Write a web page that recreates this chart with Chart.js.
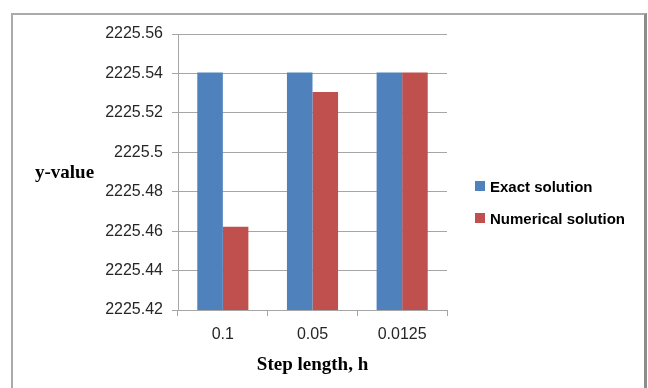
<!DOCTYPE html>
<html>
<head>
<meta charset="utf-8">
<script src="https://cdn.jsdelivr.net/npm/chart.js@4/dist/chart.umd.min.js"></script>
<style>
  html, body { margin: 0; padding: 0; background: #fff; }
  #wrap { position: relative; width: 648px; height: 388px; overflow: hidden; }
  #frame { position: absolute; left: 11px; top: 13px; width: 631px; height: 400px;
           border: 2px solid #aaaaaa; border-right: 3px solid #8c8c8c; pointer-events: none; }
  #legend { position: absolute; left: 475px; top: 177px; margin: 0; padding: 0; list-style: none;
            font: bold 15px "Liberation Sans", sans-serif; color: #000; }
  #legend li { display: flex; align-items: center; height: 18px; margin-bottom: 14px; white-space: nowrap; }
  #legend span.box { display: inline-block; width: 10px; height: 10px; margin-right: 5px; }
</style>
</head>
<body>
<div id="wrap">
  <canvas id="stepChart" width="648" height="388"></canvas>
  <ul id="legend"></ul>
  <div id="frame"></div>
</div>
<script>
var steps = ['0.1', '0.05', '0.0125'];
var exactVals = [2225.5405, 2225.5405, 2225.5405];
var numericVals = [2225.4622, 2225.5306, 2225.5405];
var seriesNames = ['Exact solution', 'Numerical solution'];
var yTitle = 'y-value';
var xTitle = 'Step length, h';

var ctx = document.getElementById('stepChart').getContext('2d');

// y-axis title is horizontal in the original, so draw it by hand
var sideTitle = {
  id: 'sideTitle',
  afterDraw: function(chart) {
    var c = chart.ctx;
    c.save();
    c.font = 'bold 19px "Liberation Serif"';
    c.fillStyle = '#000';
    c.textAlign = 'left';
    c.textBaseline = 'middle';
    c.fillText(yTitle, 35, 173);
    c.restore();
  }
};

// legend as html list (built-in one gets squeezed on the right)
var htmlLegend = {
  id: 'htmlLegend',
  afterUpdate: function(chart) {
    var ul = document.getElementById('legend');
    ul.innerHTML = '';
    var items = chart.options.plugins.legend.labels.generateLabels(chart);
    items.forEach(function(it) {
      var li = document.createElement('li');
      var box = document.createElement('span');
      box.className = 'box';
      box.style.background = it.fillStyle;
      li.appendChild(box);
      li.appendChild(document.createTextNode(it.text));
      ul.appendChild(li);
    });
  }
};

function draw() {
  new Chart(ctx, {
    type: 'bar',
    data: {
      labels: steps,
      datasets: [{
        label: seriesNames[0],
        data: exactVals,
        backgroundColor: '#4F81BD'
      }, {
        label: seriesNames[1],
        data: numericVals,
        backgroundColor: '#C0504D'
      }]
    },
    plugins: [sideTitle, htmlLegend],
    options: {
      responsive: false,
      animation: false,
      layout: { padding: { left: 0, top: 34, right: 201, bottom: 12 } },
      datasets: { bar: { categoryPercentage: 0.57, barPercentage: 1.0 } },
      plugins: {
        tooltip: { enabled: false },
        legend: { display: false }
      },
      scales: {
        x: {
          grid: { drawOnChartArea: false, offset: true, tickLength: 6, color: '#a6a6a6' },
          border: { color: '#a6a6a6' },
          ticks: { color: '#262626', padding: 9, font: { family: '"Liberation Sans"', size: 16 } },
          title: {
            display: true, text: xTitle, color: '#000',
            padding: { top: 0, bottom: 0 },
            font: { family: '"Liberation Serif"', size: 19, weight: 'bold' }
          }
        },
        y: {
          min: 2225.42, max: 2225.56,
          afterFit: function(s) { s.width = 178; },
          grid: { color: '#a6a6a6', tickLength: 6 },
          border: { color: '#a6a6a6' },
          ticks: {
            stepSize: 0.02, color: '#262626', padding: 9,
            font: { family: '"Liberation Sans"', size: 16 },
            callback: function(v) { return String(Math.round(v * 100) / 100); }
          }
        }
      }
    }
  });
}

Promise.all([
  document.fonts.load('bold 15px "Liberation Sans"'),
  document.fonts.load('16px "Liberation Sans"'),
  document.fonts.load('bold 19px "Liberation Serif"')
]).then(draw, draw);
</script>
</body>
</html>
